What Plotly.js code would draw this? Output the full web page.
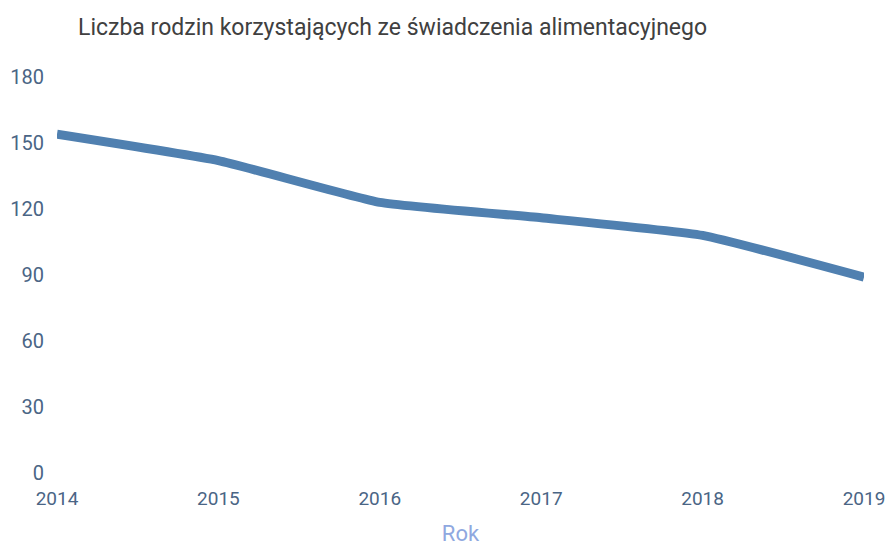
<!DOCTYPE html>
<html><head><meta charset="utf-8">
<script src="https://cdn.plot.ly/plotly-3.0.1.min.js"></script>
<style>html,body{margin:0;padding:0;background:#fff}#c{width:888px;height:546px}</style>
</head><body><div id="c"></div>
<script>
const years = [2014, 2015, 2016, 2017, 2018, 2019];
const families = [154, 142, 123, 116, 108, 89];
const yTicks = [0, 30, 60, 90, 120, 150, 180];
const chartTitle = 'Liczba rodzin korzystających ze świadczenia alimentacyjnego';
const xTitle = 'Rok';

const font = 'Roboto, "Open Sans", sans-serif';
Plotly.newPlot('c', [{
  x: years, y: families, type: 'scatter', mode: 'lines',
  line: {color: '#5080b0', width: 9, shape: 'spline', smoothing: 0.4},
  hoverinfo: 'skip'
}], {
  width: 888, height: 546,
  margin: {l: 57, r: 24, t: 77, b: 73},
  paper_bgcolor: '#fff', plot_bgcolor: '#fff',
  showlegend: false,
  title: {text: chartTitle, font: {family: font, size: 23, color: '#404040'},
          xref: 'container', yref: 'container', x: 78/888, xanchor: 'left', y: 1 - 27/546, yanchor: 'middle'},
  xaxis: {range: [2014, 2019], tickvals: years, ticktext: years.map(String), showgrid: false, zeroline: false,
          showline: false, ticks: '', ticklabelstandoff: 12, automargin: false,
          tickfont: {family: font, size: 19, color: '#4a6585'},
          title: {text: xTitle, font: {family: font, size: 22, color: '#8fa8e0'}, standoff: 17}},
  yaxis: {range: [0, 180], tickvals: yTicks, showgrid: false, zeroline: false, showline: false, ticks: '',
          ticklabelstandoff: 12, automargin: false,
          tickfont: {family: font, size: 20, color: '#4a6585'}}
}, {displayModeBar: false, staticPlot: true});
</script></body></html>
